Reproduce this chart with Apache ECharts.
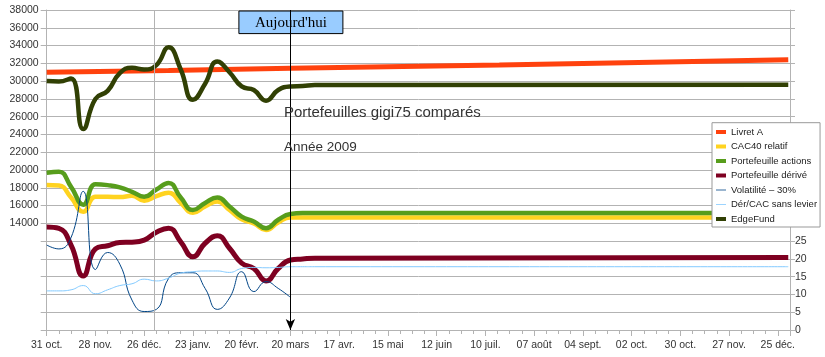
<!DOCTYPE html>
<html><head><meta charset="utf-8">
<script src="https://cdn.jsdelivr.net/npm/echarts@6/dist/echarts.min.js"></script>
<style>html,body{margin:0;padding:0;background:#fff}#c{width:825px;height:357px}</style>
</head><body><div id="c"></div>
<script>
// x positions: days since 31 oct. 2008 (weekly readings, then flat tail)
const xTickLabels = ['31 oct.','28 nov.','26 déc.','23 janv.','20 févr.','20 mars','17 avr.','15 mai','12 juin','10 juil.','07 août','04 sept.','02 oct.','30 oct.','27 nov.','25 déc.'];
const days = [0,7,14,21,28,35,42,49,56,63,70,77,84,91,98,105,112,119,126,133,140,147,154,426];
const volDays = [0,7,14,21,28,35,42,49,56,63,70,77,84,91,98,105,112,119,126,133,140];
const livretDays = [0,70,140,260,340,426];
const todayDay = 140;   // 20 mars
const yearStartDay = 62; // 1 janv. 2009

const livretA = [30990,31180,31440,31820,32100,32410];
const cac40 = [18300,18250,16900,15300,17000,17000,16950,17100,16550,17050,17450,16300,15200,15900,16450,15500,14450,14000,13250,14100,14650,14650,14650,14650];
const pfActions = [19700,19800,18100,16100,18400,18300,18050,17550,17000,17800,18550,16900,15500,16300,16900,15900,14750,14200,13450,14400,15050,15150,15150,15150];
const pfDerive = [29.0,28.6,23.9,15.2,22.8,23.7,24.6,24.7,25.3,27.5,28.6,24.8,20.6,24.4,26.5,23.0,18.8,17.3,13.8,17.3,19.7,20.0,20.2,20.4];
const volatilite = [23.9,22.8,26.0,39.0,17.0,21.8,18.5,8.4,5.2,5.8,14.5,16.1,16.1,11.7,5.8,9.0,16.4,10.8,13.6,11.7,9.2];
const derCac = [11.0,11.0,11.3,12.5,10.2,11.3,12.5,13.0,14.3,13.8,14.6,16.0,16.4,16.6,16.6,16.2,17.3,17.6,17.5,17.6,17.8,17.8,17.8,17.8];
const edgeFund = [30000,29950,30300,24600,28000,28900,30900,31500,31300,31800,33800,31300,27900,29700,32200,31000,29400,29000,27800,29000,29400,29450,29550,29600];

const names = ['Livret A','CAC40 relatif','Portefeuille actions','Portefeuille dérivé','Volatilité – 30%','Dér/CAC sans levier','EdgeFund'];
const colors = ['#ff420e','#ffd320','#579d1c','#7e0021','#004586','#83caff','#314004'];

function pairs(xs, ys){ return ys.map((v,i)=>[xs[i], v]); }
const FONT = '"Liberation Sans", Arial, sans-serif';
const GRID = '#b3b3b3';
const thinIcon = 'path://M0,1.6 L10,1.6 L10,2.4 L0,2.4 Z';

const chart = echarts.init(document.getElementById('c'), null, {renderer:'canvas'});
const option = {
  animation:false,
  color: colors,
  textStyle:{fontFamily:FONT},
  grid:{left:46.7, right:35, top:10, bottom:27},
  title:[
    {text:'Portefeuilles gigi75 comparés', left:279, top:100, textStyle:{fontFamily:FONT, fontSize:15, fontWeight:'normal', color:'#333'}},
    {text:'Année 2009', left:279, top:135, textStyle:{fontFamily:FONT, fontSize:13.5, fontWeight:'normal', color:'#333'}}
  ],
  legend:{
    orient:'vertical', left:712, top:122.7,
    backgroundColor:'#fff', borderColor:'#999', borderWidth:1,
    padding:[3.3,3,2,4], itemWidth:10, itemHeight:4, itemGap:2.5,
    textStyle:{fontFamily:FONT, fontSize:9.5, color:'#222', lineHeight:12},
    data:[
      {name:names[0], icon:'rect'},{name:names[1], icon:'rect'},{name:names[2], icon:'rect'},
      {name:names[3], icon:'rect'},{name:names[4], icon:thinIcon},{name:names[5], icon:thinIcon},
      {name:names[6], icon:'rect'}
    ]
  },
  xAxis:{
    type:'value', min:0, max:427, interval:28,
    axisLine:{show:true, onZero:false, lineStyle:{color:GRID}},
    axisTick:{show:true, length:6, lineStyle:{color:GRID}},
    minorTick:{show:true, splitNumber:4, length:4, lineStyle:{color:GRID}},
    splitLine:{show:false}, minorSplitLine:{show:false},
    axisLabel:{margin:10, fontFamily:FONT, fontSize:10.5, color:'#333', showMaxLabel:false,
      formatter:v=>{const i=v/28; return Number.isInteger(i)&&xTickLabels[i]?xTickLabels[i]:'';}}
  },
  yAxis:[
    {type:'value', min:2000, max:38000, interval:2000, position:'left',
     axisLine:{show:true, lineStyle:{color:GRID}},
     axisTick:{show:true, length:6, lineStyle:{color:GRID}},
     splitLine:{show:true, lineStyle:{color:GRID, width:1}},
     axisLabel:{margin:8, fontFamily:FONT, fontSize:10.5, color:'#333', formatter:v=>v>=14000?String(v):''}},
    {type:'value', min:0, max:90, interval:5, position:'right',
     axisLine:{show:true, lineStyle:{color:GRID}},
     axisTick:{show:true, length:5, lineStyle:{color:GRID}},
     splitLine:{show:false},
     axisLabel:{margin:5, fontFamily:FONT, fontSize:10.5, color:'#333', formatter:v=>v<=25?String(v):''}}
  ],
  series:[
    {name:names[0], type:'line', yAxisIndex:0, data:pairs(livretDays, livretA), showSymbol:false, lineStyle:{width:5}, z:2,
     markLine:{silent:true, symbol:'none', label:{show:false}, lineStyle:{color:GRID, width:1, type:'solid'}, data:[{xAxis:yearStartDay}]}},
    {name:names[1], type:'line', yAxisIndex:0, data:pairs(days, cac40), smooth:true, showSymbol:false, lineStyle:{width:4.5}, z:3},
    {name:names[2], type:'line', yAxisIndex:0, data:pairs(days, pfActions), smooth:true, showSymbol:false, lineStyle:{width:4.5}, z:3},
    {name:names[3], type:'line', yAxisIndex:1, data:pairs(days, pfDerive), smooth:true, showSymbol:false, lineStyle:{width:5}, z:3},
    {name:names[4], type:'line', yAxisIndex:1, data:pairs(volDays, volatilite), smooth:true, showSymbol:false, lineStyle:{width:1}, z:3},
    {name:names[5], type:'line', yAxisIndex:1, data:pairs(days, derCac), smooth:true, showSymbol:false, lineStyle:{width:1}, z:3},
    {name:names[6], type:'line', yAxisIndex:0, data:pairs(days, edgeFund), smooth:true, showSymbol:false, lineStyle:{width:4.5}, z:3,
     markLine:{silent:true, symbol:['arrow','none'], symbolSize:[7,11], label:{show:false},
       lineStyle:{color:'#000', width:1, type:'solid'}, data:[{xAxis:todayDay}]}}
  ]
};
chart.setOption(option);
const p = chart.convertToPixel({xAxisIndex:0, yAxisIndex:0}, [todayDay, 38000]);
chart.setOption({graphic:[{
  type:'group', left:p[0]-52, top:p[1]+0.5, z:100,
  children:[
    {type:'rect', shape:{x:0, y:0, width:104, height:22.6}, style:{fill:'#99ccff', stroke:'#000', lineWidth:1}},
    {type:'text', x:52, y:11.8, style:{text:"Aujourd'hui", fill:'#000', font:'15px "Liberation Serif", "Times New Roman", serif', align:'center', verticalAlign:'middle'}}
  ]
}]});
</script></body></html>
